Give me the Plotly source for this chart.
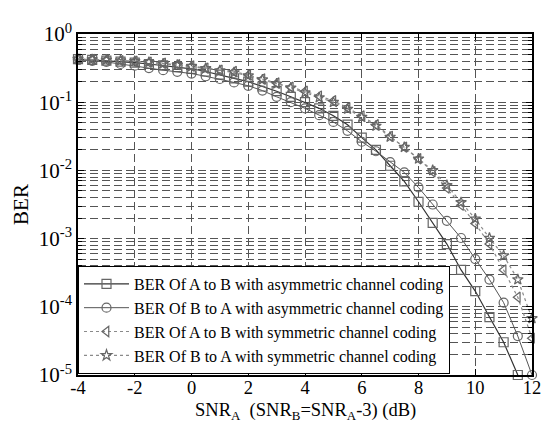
import plotly.graph_objects as go

snr = [-4, -3.5, -3, -2.5, -2, -1.5, -1, -0.5, 0, 0.5, 1, 1.5, 2, 2.5, 3, 3.5,
       4, 4.5, 5, 5.5, 6, 6.5, 7, 7.5, 8, 8.5, 9, 9.5, 10, 10.5, 11, 11.5, 12]

ber_ab_asym = [0.427, 0.417, 0.407, 0.394, 0.380, 0.363, 0.347, 0.327, 0.309, 0.282,
               0.254, 0.224, 0.200, 0.170, 0.145, 0.120, 0.100, 0.0813, 0.0631, 0.0468,
               0.0302, 0.0200, 0.0117, 0.00692, 0.00347, 0.00170, 8.32e-4, 3.47e-4,
               1.70e-4, 7.08e-5, 3.02e-5, 1.0e-5]

ber_ba_asym = [0.417, 0.403, 0.389, 0.363, 0.343, 0.316, 0.295, 0.279, 0.263, 0.240,
               0.219, 0.195, 0.174, 0.148, 0.120, 0.100, 0.0813, 0.0646, 0.0513, 0.0380,
               0.0263, 0.0191, 0.0132, 0.00933, 0.00562, 0.00316, 0.00182, 0.00102,
               5.01e-4, 2.51e-4, 1.15e-4, 3.72e-5, 1.0e-5]

ber_ab_sym = [0.427, 0.422, 0.417, 0.407, 0.398, 0.385, 0.372, 0.355, 0.339, 0.316,
              0.295, 0.282, 0.251, 0.219, 0.191, 0.166, 0.145, 0.123, 0.105, 0.0832,
              0.0631, 0.0468, 0.0316, 0.0219, 0.0148, 0.00955, 0.00550, 0.00309,
              0.00166, 8.32e-4, 3.47e-4, 1.38e-4, 3.47e-5]

ber_ba_sym = [0.427, 0.422, 0.417, 0.407, 0.398, 0.385, 0.367, 0.351, 0.335, 0.313,
              0.292, 0.272, 0.245, 0.214, 0.186, 0.162, 0.138, 0.117, 0.100, 0.0794,
              0.0603, 0.0447, 0.0309, 0.0219, 0.0148, 0.0100, 0.00603, 0.00339,
              0.00195, 0.00102, 5.62e-4, 2.51e-4, 6.76e-5]

names = ["BER Of A to B with asymmetric channel coding",
         "BER Of B to A with asymmetric channel coding",
         "BER Of A to B with symmetric channel coding",
         "BER Of B to A with symmetric channel coding"]

x_ticks = [-4, -2, 0, 2, 4, 6, 8, 10, 12]
y_ticks = [1, 0.1, 0.01, 0.001, 0.0001, 0.00001]
y_ticktext = ["10<sup>0</sup>", "10<sup>-1</sup>", "10<sup>-2</sup>",
              "10<sup>-3</sup>", "10<sup>-4</sup>", "10<sup>-5</sup>"]
x_title = "SNR<sub>A</sub>  (SNR<sub>B</sub>=SNR<sub>A</sub>-3) (dB)"

series = [
    (ber_ab_asym, "square-open", "#333333", "solid", 1.2, 9),
    (ber_ba_asym, "circle-open", "#555555", "solid", 1.0, 9),
    (ber_ab_sym, "triangle-left-open", "#8a8a8a", "dot", 1.2, 9),
    (ber_ba_sym, "star-open", "#8a8a8a", "dot", 1.2, 8),
]

fig = go.Figure()
for (ys, sym, col, dash, w, ms), nm in zip(series, names):
    fig.add_trace(go.Scatter(
        x=snr[:len(ys)], y=ys, mode="lines+markers", name=nm,
        line=dict(color=col, width=w, dash=dash),
        marker=dict(symbol=sym, size=ms, color="#666666",
                    line=dict(color="#666666", width=1.2)),
        cliponaxis=False,
    ))

font_family = "Times New Roman, Liberation Serif, DejaVu Serif, serif"
grid_col = "#555555"
gdash = "8px,4px"

fig.update_layout(
    width=550, height=424,
    margin=dict(l=70, r=26, t=14, b=57),
    paper_bgcolor="white", plot_bgcolor="white",
    font=dict(family=font_family, color="black"),
    showlegend=True,
    legend=dict(x=0.0, y=0.003, xanchor="left", yanchor="bottom",
                bgcolor="white", bordercolor="black", borderwidth=1,
                font=dict(size=16, family=font_family),
                tracegroupgap=0, itemwidth=45),
    xaxis=dict(range=[-4, 12], tickvals=x_ticks, ticktext=[str(v) for v in x_ticks],
               showgrid=True, gridcolor=grid_col, griddash=gdash, gridwidth=1,
               ticks="inside", ticklen=6, tickcolor="black",
               showline=True, linecolor="black", linewidth=1.5, mirror="ticks",
               ticklabelstandoff=-5,
               tickfont=dict(size=18.5, family=font_family), zeroline=False),
    yaxis=dict(type="log", range=[-5, 0], tickvals=y_ticks, ticktext=y_ticktext,
               showgrid=True, gridcolor=grid_col, griddash=gdash, gridwidth=1,
               ticks="inside", ticklen=6, tickcolor="black",
               showline=True, linecolor="black", linewidth=1.5, mirror="ticks",
               tickfont=dict(size=21, family=font_family), zeroline=False,
               ticklabeloverflow="allow",
               minor=dict(dtick="D1", showgrid=True, gridcolor=grid_col,
                          griddash=gdash, ticks="inside", ticklen=4,
                          tickcolor="black"),
               title=dict(text="BER", font=dict(size=21, family=font_family), standoff=4)),
    annotations=[dict(text=x_title, xref="paper", yref="paper", x=0.5, y=-0.108,
                      xanchor="center", yanchor="middle", showarrow=False,
                      font=dict(size=18.5, family=font_family, color="black"))],
)

fig.write_html("out.html")
